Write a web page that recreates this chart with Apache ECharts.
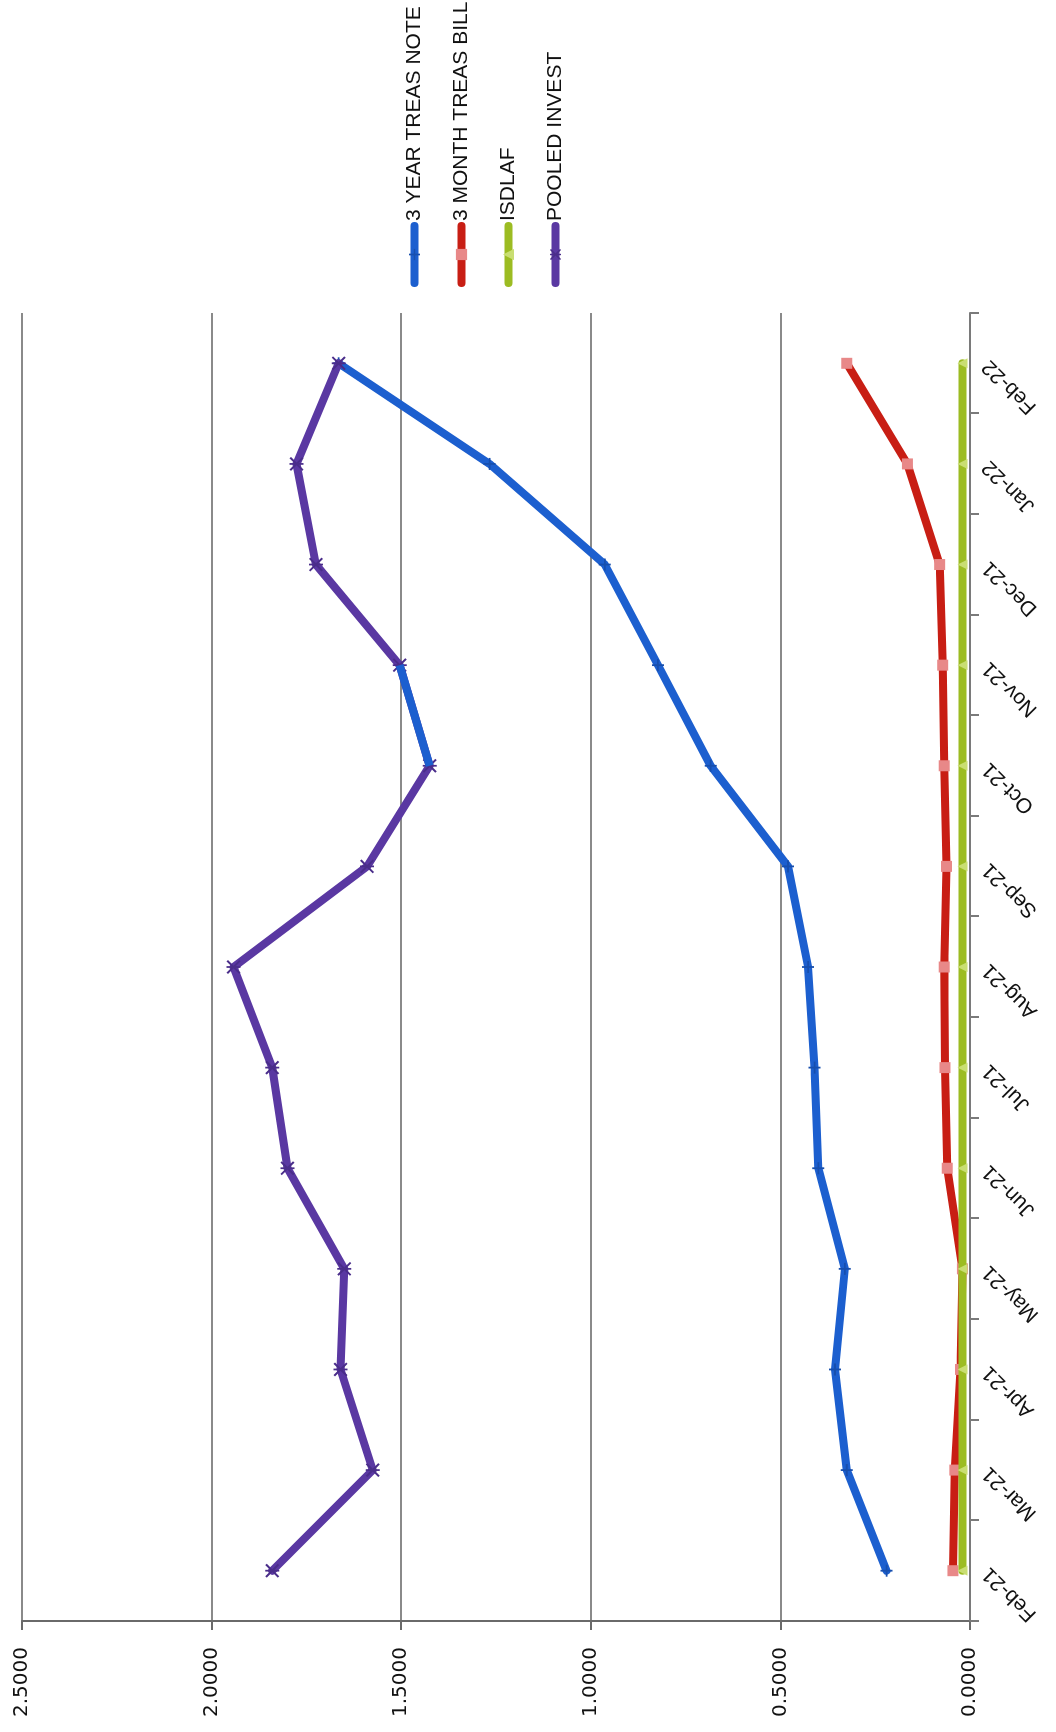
<!DOCTYPE html>
<html>
<head>
<meta charset="utf-8">
<script src="https://cdn.jsdelivr.net/npm/echarts@6/dist/echarts.min.js"></script>
<style>
  html, body { margin: 0; padding: 0; background: #fff; }
  #outer { position: relative; width: 1056px; height: 1732px; overflow: hidden; background: #fff; }
  #chart { position: absolute; left: 0; top: 0; width: 1732px; height: 1056px;
           transform-origin: 0 0; transform: translateY(1732px) rotate(-90deg); }
</style>
</head>
<body>
<div id="outer"><div id="chart"></div></div>
<script>
const categories = ['Feb-21','Mar-21','Apr-21','May-21','Jun-21','Jul-21','Aug-21','Sep-21','Oct-21','Nov-21','Dec-21','Jan-22','Feb-22'];
const treas3y = [0.22, 0.325, 0.356, 0.33, 0.40, 0.41, 0.427, 0.48, 0.684, 0.823, 0.963, 1.267, 1.665];
const treas3m = [0.045, 0.04, 0.025, 0.02, 0.06, 0.066, 0.068, 0.062, 0.068, 0.072, 0.08, 0.165, 0.325];
const isdlaf  = [0.02, 0.02, 0.02, 0.02, 0.02, 0.02, 0.02, 0.02, 0.02, 0.02, 0.02, 0.02, 0.02];
const pooled  = [1.84, 1.575, 1.66, 1.65, 1.80, 1.84, 1.942, 1.59, 1.425, 1.504, 1.725, 1.776, 1.665];
const pooledBlueSegment = ['Oct-21', 'Nov-21'];
const seriesNames = ['3 YEAR TREAS NOTE', '3 MONTH TREAS BILL', 'ISDLAF', 'POOLED INVEST'];
const valueTicks = [0, 0.5, 1.0, 1.5, 2.0, 2.5];

const C_BLUE = '#1c5fcf', C_RED = '#c81e14', C_GREEN = '#9cbc22', C_PURPLE = '#5a38a2';
const plusSym = 'path://M3.4,0h1.2v8h-1.2z M0,3.4h8v1.2h-8z';
const starSym = 'path://M0,0.8L0.8,0L8,7.2L7.2,8z M7.2,0L8,0.8L0.8,8L0,7.2z M3.5,0h1v8h-1z';

const chart = echarts.init(document.getElementById('chart'), null, { width: 1732, height: 1056 });

function lineSeries(name, data, color, symbol, symbolSize, symColor, z) {
  return {
    name: name, type: 'line', data: data, z: z,
    symbol: symbol, symbolSize: symbolSize, showSymbol: true,
    lineStyle: { color: color, width: 8, cap: 'round', join: 'round' },
    itemStyle: { color: symColor, borderColor: symColor, borderWidth: 0 },
    emphasis: { disabled: true },
    animation: false
  };
}

const option = {
  backgroundColor: '#fff',
  animation: false,
  grid: { left: 111, right: 313, top: 22, bottom: 86, containLabel: false },
  legend: {
    orient: 'vertical',
    left: 1440, top: 399,
    itemWidth: 57, itemHeight: 14, itemGap: 26,
    data: seriesNames,
    lineStyle: { width: 8, cap: 'round' },
    textStyle: { fontFamily: 'Liberation Sans, Arial, sans-serif', fontSize: 21, color: '#111' },
    selectedMode: false
  },
  xAxis: {
    type: 'category',
    data: categories,
    boundaryGap: true,
    axisLine: { show: true, lineStyle: { color: '#7a7a7a', width: 2 } },
    axisTick: { show: true, length: 9, lineStyle: { color: '#7a7a7a', width: 2 } },
    axisLabel: {
      rotate: 45, margin: 16, interval: 0,
      fontFamily: 'Liberation Sans, Arial, sans-serif', fontSize: 21, color: '#111'
    },
    splitLine: { show: false }
  },
  yAxis: {
    type: 'value',
    min: valueTicks[0], max: valueTicks[valueTicks.length - 1], interval: 0.5,
    axisLine: { show: true, lineStyle: { color: '#6a6a6a', width: 2 } },
    axisTick: { show: true, length: 9, lineStyle: { color: '#6a6a6a', width: 2 } },
    axisLabel: {
      margin: 26,
      formatter: v => v.toFixed(4),
      fontFamily: 'DejaVu Sans, Verdana, sans-serif', fontSize: 20, color: '#111'
    },
    splitLine: { show: true, lineStyle: { color: '#8a8a8a', width: 2 } }
  },
  series: [
    lineSeries(seriesNames[0], treas3y, C_BLUE, plusSym, 12, '#174fae', 3),
    lineSeries(seriesNames[1], treas3m, C_RED, 'rect', 11, '#e88888', 4),
    lineSeries(seriesNames[2], isdlaf, C_GREEN, 'triangle', 10, '#c9de72', 5),
    lineSeries(seriesNames[3], pooled, C_PURPLE, starSym, 14, '#4a2d8a', 6),
    {
      name: 'POOLED INVEST segment', type: 'line', z: 7,
      data: pooled.map((v, i) => pooledBlueSegment.includes(categories[i]) ? v : null),
      symbol: 'none', connectNulls: false,
      lineStyle: { color: C_BLUE, width: 8, cap: 'butt', join: 'round' },
      emphasis: { disabled: true }, animation: false
    }
  ]
};
chart.setOption(option);
</script>
</body>
</html>
